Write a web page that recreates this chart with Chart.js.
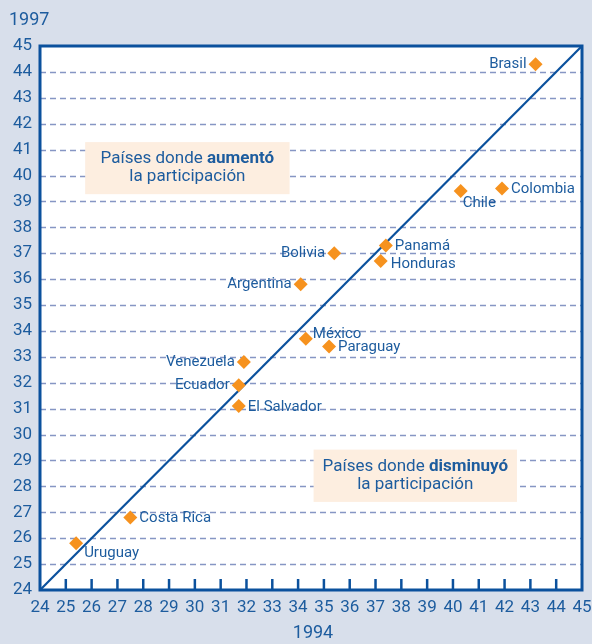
<!DOCTYPE html>
<html>
<head>
<meta charset="utf-8">
<script src="https://cdn.jsdelivr.net/npm/chart.js@4/dist/chart.umd.min.js"></script>
<style>
  html, body { margin: 0; padding: 0; background: #d8dfeb; }
  #wrap { width: 592px; height: 644px; position: relative; }
</style>
</head>
<body>
<div id="wrap"><canvas id="c" width="592" height="644"></canvas></div>
<script>
// ---- data ----
const countries = ["Brasil","Chile","Colombia","Panamá","Honduras","Bolivia","Argentina","México","Paraguay","Venezuela","Ecuador","El Salvador","Costa Rica","Uruguay"];
const values1994 = [43.2, 40.3, 41.9, 37.4, 37.2, 35.4, 34.1, 34.3, 35.2, 31.9, 31.7, 31.7, 27.5, 25.4];
const values1997 = [44.3, 39.4, 39.5, 37.3, 36.7, 37.0, 35.8, 33.7, 33.4, 32.8, 31.9, 31.1, 26.8, 25.8];
const labelSide = ["left","below","right","right","rightlow","left","left","aboveright","right","left","left","right","right","belowright"];
const axisMin = 24, axisMax = 45;
const xTitle = "1994", yTitle = "1997";
const notes = [
  { normal: "Países donde ", bold: "aumentó", line2: "la participación", x0: 25.75, x1: 33.67, y0: 41.29, y1: 39.28 },
  { normal: "Países donde ", bold: "disminuyó", line2: "la participación", x0: 34.6, x1: 42.48, y0: 29.42, y1: 27.4 }
];

const TEXT = '#1d5c9e';
const FRAME = '#0b519d';
const GRID = '#8696c4';
const FONT = 'Roboto, "Liberation Sans", sans-serif';

const points = countries.map((c, i) => ({ x: values1994[i], y: values1997[i] }));

const sideOffsets = {
  left: { dx: -9, dy: 0, align: 'right' },
  right: { dx: 9, dy: 1, align: 'left' },
  rightlow: { dx: 10, dy: 3, align: 'left' },
  below: { dx: 2, dy: 12, align: 'left' },
  belowright: { dx: 8, dy: 10, align: 'left' },
  aboveright: { dx: 7, dy: -4, align: 'left' }
};

const decor = {
  id: 'decor',
  beforeDatasetsDraw(chart) {
    const { ctx, chartArea: a, scales: { x, y } } = chart;
    ctx.save();
    ctx.fillStyle = '#ffffff';
    ctx.fillRect(a.left, a.top, a.right - a.left, a.bottom - a.top);
    // dashed grid
    ctx.strokeStyle = GRID;
    ctx.lineWidth = 1.3;
    ctx.setLineDash([6, 4]);
    for (let v = axisMin + 1; v < axisMax; v++) {
      const py = Math.round(y.getPixelForValue(v)) + 0.5;
      ctx.beginPath();
      ctx.moveTo(a.left, py);
      ctx.lineTo(a.right, py);
      ctx.stroke();
    }
    ctx.setLineDash([]);
    // note boxes
    notes.forEach(n => {
      const l = x.getPixelForValue(n.x0), r = x.getPixelForValue(n.x1);
      const t = y.getPixelForValue(n.y0), b = y.getPixelForValue(n.y1);
      ctx.fillStyle = '#fdeee0';
      ctx.fillRect(l, t, r - l, b - t);
      const cx = (l + r) / 2;
      const cy = (t + b) / 2;
      ctx.fillStyle = TEXT;
      ctx.textBaseline = 'middle';
      const fN = '17px ' + FONT, fB = 'bold 17px ' + FONT;
      ctx.font = fN; const wN = ctx.measureText(n.normal).width;
      ctx.font = fB; const wB = ctx.measureText(n.bold).width;
      let sx = cx - (wN + wB) / 2;
      ctx.textAlign = 'left';
      ctx.font = fN; ctx.fillText(n.normal, sx, cy - 9);
      ctx.font = fB; ctx.fillText(n.bold, sx + wN, cy - 9);
      ctx.font = fN; ctx.textAlign = 'center';
      ctx.fillText(n.line2, cx, cy + 9);
    });
    ctx.restore();
  },
  afterDatasetsDraw(chart) {
    const { ctx, chartArea: a, scales: { x, y } } = chart;
    ctx.save();
    // labels
    ctx.font = '15px ' + FONT;
    ctx.fillStyle = TEXT;
    ctx.textBaseline = 'middle';
    points.forEach((p, i) => {
      const o = sideOffsets[labelSide[i]];
      ctx.textAlign = o.align;
      ctx.fillText(countries[i], x.getPixelForValue(p.x) + o.dx, y.getPixelForValue(p.y) + o.dy);
    });
    // frame
    ctx.strokeStyle = FRAME;
    ctx.lineWidth = 3;
    ctx.strokeRect(a.left, a.top, a.right - a.left, a.bottom - a.top);
    // x tick marks inside
    ctx.lineWidth = 2.5;
    for (let v = axisMin + 1; v < axisMax; v++) {
      const px = x.getPixelForValue(v);
      ctx.beginPath();
      ctx.moveTo(px, a.bottom);
      ctx.lineTo(px, a.bottom - 11);
      ctx.stroke();
    }
    // titles
    ctx.fillStyle = TEXT;
    ctx.font = '18px ' + FONT;
    ctx.textAlign = 'left';
    ctx.textBaseline = 'middle';
    ctx.fillText(yTitle, 9, 20);
    ctx.textAlign = 'center';
    ctx.fillText(xTitle, (a.left + a.right) / 2 + 2, 633);
    ctx.restore();
  }
};

new Chart(document.getElementById('c'), {
  type: 'scatter',
  plugins: [decor],
  data: {
    datasets: [
      {
        type: 'line',
        data: [{ x: axisMin, y: axisMin }, { x: axisMax, y: axisMax }],
        borderColor: FRAME,
        borderWidth: 2.2,
        pointRadius: 0,
        fill: false,
        order: 2
      },
      {
        data: points,
        pointStyle: 'rectRot',
        pointRadius: 7,
        pointHoverRadius: 7,
        backgroundColor: '#f6921e',
        borderColor: '#f6921e',
        borderWidth: 0,
        order: 1
      }
    ]
  },
  options: {
    responsive: false,
    animation: false,
    events: [],
    layout: { padding: { left: 0, right: 10, top: 46, bottom: 0 } },
    plugins: { legend: { display: false }, tooltip: { enabled: false } },
    scales: {
      x: {
        type: 'linear', min: axisMin, max: axisMax,
        grid: { display: false, drawTicks: false },
        border: { display: false },
        ticks: { stepSize: 1, color: TEXT, font: { family: FONT, size: 17 }, padding: 8, maxRotation: 0, autoSkip: false },
        afterFit(s) { s.height = 54; s.paddingLeft = 0; s.paddingRight = 0; }
      },
      y: {
        type: 'linear', min: axisMin, max: axisMax,
        grid: { display: false, drawTicks: false },
        border: { display: false },
        ticks: { stepSize: 1, color: TEXT, font: { family: FONT, size: 17 }, padding: 8, autoSkip: false },
        afterFit(s) { s.width = 40; s.paddingTop = 0; s.paddingBottom = 0; }
      }
    }
  }
});
</script>
</body>
</html>
